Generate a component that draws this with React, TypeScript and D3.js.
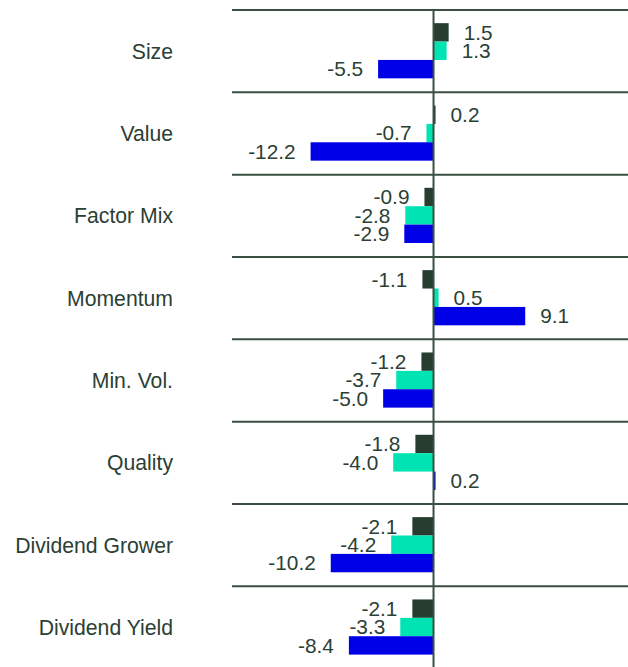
import React from "react";
import * as d3 from "d3";

const categories = ["Size", "Value", "Factor Mix", "Momentum", "Min. Vol.", "Quality", "Dividend Grower", "Dividend Yield"];
const seriesNames = ["A", "B", "C"];
const seriesA = [1.5, 0.2, -0.9, -1.1, -1.2, -1.8, -2.1, -2.1];
const seriesB = [1.3, -0.7, -2.8, 0.5, -3.7, -4.0, -4.2, -3.3];
const seriesC = [-5.5, -12.2, -2.9, 9.1, -5.0, 0.2, -10.2, -8.4];
const colors = ["#263d30", "#00e3b3", "#0000e6"];

const W = 628;
const H = 667;
const textColor = "#2b4034";
const lineColor = "#3a4f42";
const font = "'Liberation Sans', Arial, sans-serif";

export default function App() {
  const series = [seriesA, seriesB, seriesC];
  const x = d3.scaleLinear().domain([-20, 19.3]).range([232, 628]);
  const y0 = d3.scaleBand<string>().domain(categories).range([10, 668.6]).padding(0);
  const bw = y0.bandwidth();
  const y1 = d3.scaleBand<string>().domain(seriesNames).range([bw * 0.16, bw * 0.83]).padding(0);
  const fmt = (v: number) => v.toFixed(1);
  const x0 = x(0);

  return (
    <svg width={W} height={H} style={{ position: "absolute", left: 0, top: 0, background: "#fff" }}>
      {categories.map((c) => (
        <line key={"sep" + c} x1={232} x2={628} y1={y0(c)!} y2={y0(c)!} stroke={lineColor} strokeWidth={2} />
      ))}
      {categories.map((c) => (
        <text
          key={"cat" + c}
          x={173}
          y={y0(c)! + bw / 2}
          dy="0.35em"
          textAnchor="end"
          fontFamily={font}
          fontSize={21.2}
          fill={textColor}
        >
          {c}
        </text>
      ))}
      {categories.map((c, i) =>
        series.map((s, j) => {
          const v = s[i];
          const yy = y0(c)! + y1(seriesNames[j])!;
          const h = y1.bandwidth();
          const xa = Math.min(x(v), x0);
          const w = Math.abs(x(v) - x0);
          return (
            <g key={"b" + c + j}>
              <rect x={xa} y={yy} width={w} height={h} fill={colors[j]} />
              <text
                x={v >= 0 ? x(v) + 15 : x(v) - 15}
                y={yy + h / 2}
                dy="0.35em"
                textAnchor={v >= 0 ? "start" : "end"}
                fontFamily={font}
                fontSize={20.8}
                fill={textColor}
              >
                {fmt(v)}
              </text>
            </g>
          );
        })
      )}
      <line x1={x0} x2={x0} y1={10} y2={H} stroke={lineColor} strokeWidth={2} />
    </svg>
  );
}
